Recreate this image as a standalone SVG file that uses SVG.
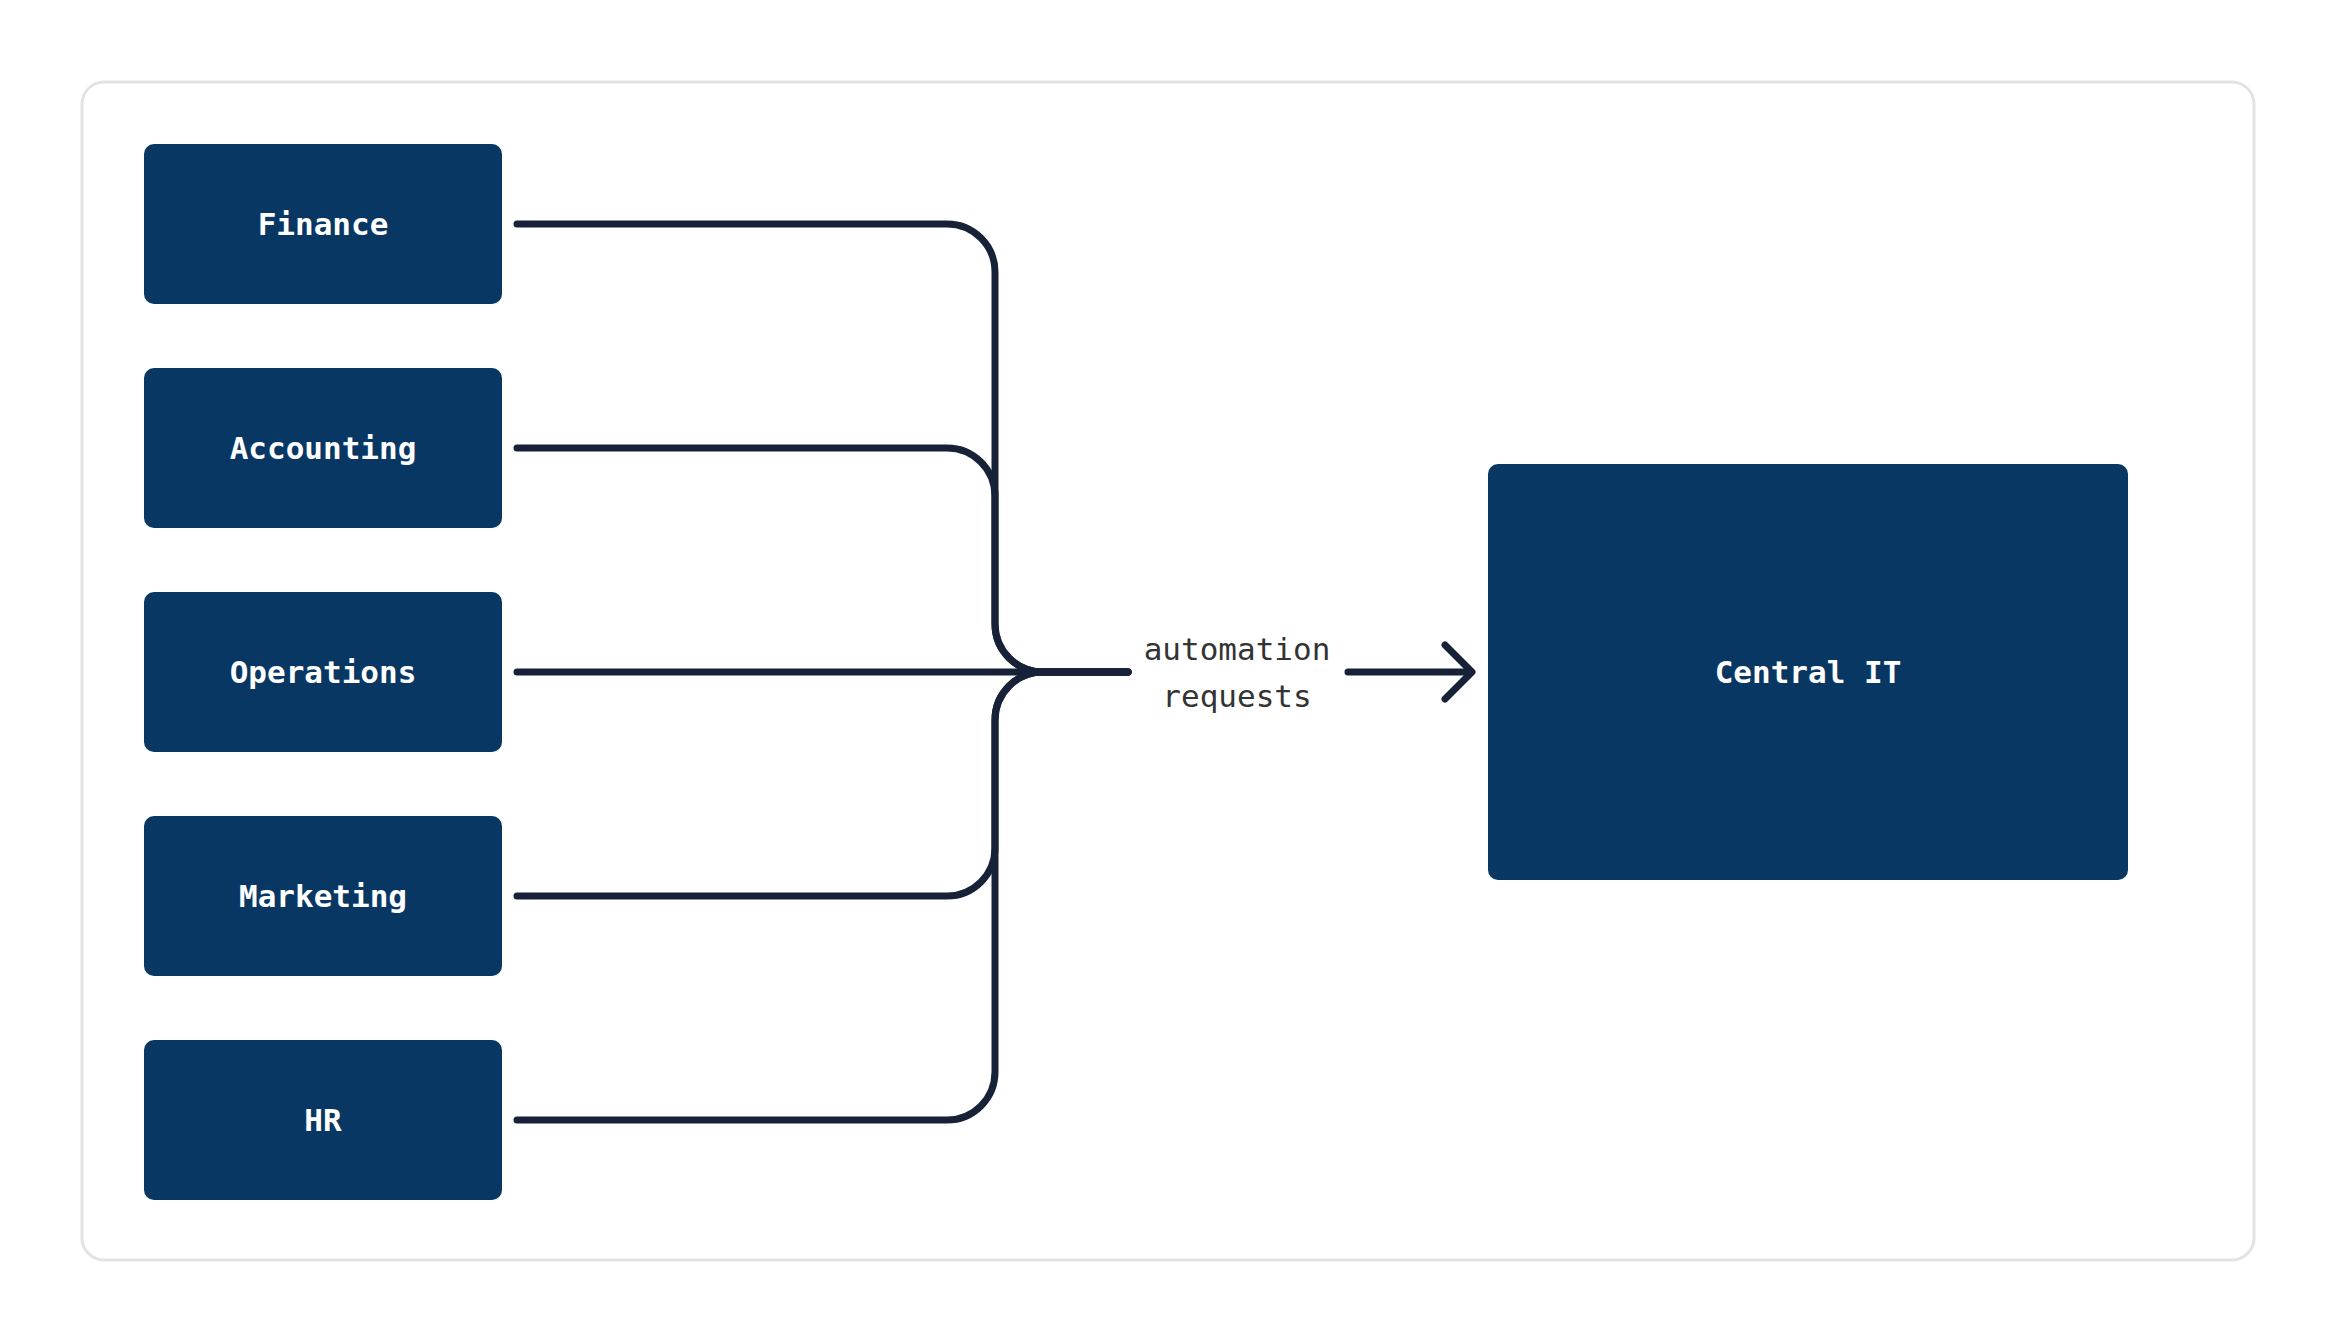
<svg xmlns="http://www.w3.org/2000/svg" width="2336" height="1344" viewBox="0 0 2336 1344">
<style>
.node rect{fill:#093763;}
.node text{fill:#ffffff;font-family:"DejaVu Sans Mono","Liberation Mono",monospace;font-weight:bold;font-size:31px;text-anchor:middle;}
.conn path{fill:none;stroke:#172239;stroke-width:7;stroke-linecap:round;stroke-linejoin:round;}
.lbl{fill:#333333;font-family:"DejaVu Sans Mono","Liberation Mono",monospace;font-size:31px;text-anchor:middle;}
</style>
<rect x="0" y="0" width="2336" height="1344" fill="#ffffff"/>
<rect id="frame" x="82" y="82" width="2172" height="1178" rx="22" ry="22" fill="#ffffff" stroke="#e3e3e3" stroke-width="3"/>
<g id="connectors" class="conn">
<path d="M517,224 H947 A48,48 0 0 1 995,272 V624 A48,48 0 0 0 1043,672 H1128"/>
<path d="M517,448 H947 A48,48 0 0 1 995,496 V624 A48,48 0 0 0 1043,672 H1128"/>
<path d="M517,672 H1128"/>
<path d="M517,896 H947 A48,48 0 0 0 995,848 V720 A48,48 0 0 1 1043,672 H1128"/>
<path d="M517,1120 H947 A48,48 0 0 0 995,1072 V720 A48,48 0 0 1 1043,672 H1128"/>
<path d="M1348,672 H1470"/>
<path d="M1445,645 L1472,672 L1445,699"/>
<text class="lbl" x="1237" y="660">automation</text>
<text class="lbl" x="1237" y="707">requests</text>
</g>
<g id="finance" class="node"><rect x="144" y="144" width="358" height="160" rx="10"/><text x="323" y="235">Finance</text></g>
<g id="accounting" class="node"><rect x="144" y="368" width="358" height="160" rx="10"/><text x="323" y="459">Accounting</text></g>
<g id="operations" class="node"><rect x="144" y="592" width="358" height="160" rx="10"/><text x="323" y="683">Operations</text></g>
<g id="marketing" class="node"><rect x="144" y="816" width="358" height="160" rx="10"/><text x="323" y="907">Marketing</text></g>
<g id="hr" class="node"><rect x="144" y="1040" width="358" height="160" rx="10"/><text x="323" y="1131">HR</text></g>
<g id="central-it" class="node"><rect x="1488" y="464" width="640" height="416" rx="10"/><text x="1808" y="683">Central IT</text></g>
</svg>
